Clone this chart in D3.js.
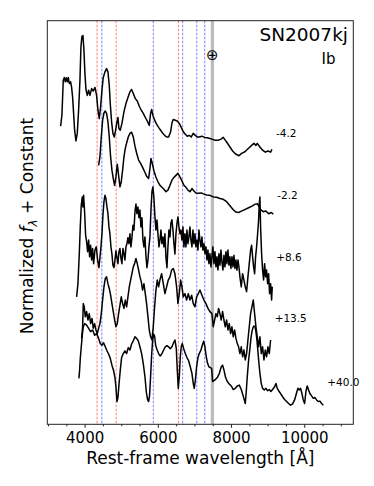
<!DOCTYPE html>
<html>
<head>
<meta charset="utf-8">
<script src="https://cdn.jsdelivr.net/npm/d3@7"></script>
<style>
  body { margin: 0; background: #fff; }
  svg { display: block; font-family: "DejaVu Sans", sans-serif; }
</style>
</head>
<body>
<div id="chart"></div>
<script>

//          Spectra  [rest wavelength (A), normalized flux + constant]
var specM42 = [
  [3344,7.46],[3380,7.74],[3416,8.61],[3444,8.68],[3471,8.57],[3498,8.67],[3526,8.57],[3553,8.68],[3580,8.53],[3617,8.57],
  [3644,8.43],[3671,8.19],[3699,7.78],[3726,7.36],[3763,7.09],[3799,7.28],[3835,7.86],[3872,8.61],[3899,9.44],[3926,9.71],
  [3954,9.73],[3981,9.36],[4008,8.78],[4036,8.38],[4072,8.23],[4109,8.36],[4145,8.23],[4190,8.40],[4236,8.34],[4282,8.43],
  [4327,8.23],[4364,7.86],[4400,7.65],[4436,7.94],[4473,8.36],[4509,8.68],[4555,8.82],[4600,8.90],[4637,8.82],[4673,8.48],
  [4700,8.03],[4737,7.57],[4773,7.28],[4810,7.19],[4846,7.36],[4883,7.57],[4910,7.68],[4937,7.40],[4974,7.36],[5019,7.53],
  [5074,7.82],[5129,8.03],[5183,8.18],[5238,8.32],[5283,8.38],[5329,8.28],[5384,8.15],[5438,8.09],[5493,7.96],[5547,7.86],
  [5602,7.78],[5657,7.68],[5711,7.59],[5766,7.48],[5802,7.78],[5830,7.88],[5866,7.73],[5912,7.61],[5966,7.51],[6021,7.43],
  [6076,7.36],[6130,7.29],[6185,7.23],[6240,7.19],[6294,7.19],[6349,7.32],[6385,7.54],[6422,7.63],[6476,7.61],[6531,7.59],
  [6586,7.53],[6640,7.43],[6695,7.32],[6750,7.26],[6804,7.21],[6859,7.23],[6913,7.19],[6968,7.28],[7023,7.23],[7077,7.19],
  [7132,7.19],[7205,7.21],[7278,7.18],[7351,7.17],[7423,7.15],[7496,7.13],[7569,7.11],[7642,7.11],[7715,7.13],[7788,7.18],
  [7842,7.11],[7897,7.04],[7970,6.94],[8043,6.84],[8116,6.77],[8216,6.72],[8288,6.78],[8379,6.82],[8471,6.90],[8562,6.98],
  [8625,7.03],[8680,6.98],[8716,7.03],[8789,6.94],[8862,6.86],[8935,6.81],[9008,6.84],[9081,6.81],[9117,6.88]
];
var specM22 = [
  [4382,6.48],[4418,6.69],[4455,7.19],[4491,7.61],[4528,7.79],[4564,7.84],[4600,7.78],[4637,7.57],[4673,7.19],[4710,6.69],
  [4746,6.36],[4782,6.15],[4819,5.98],[4855,6.19],[4892,6.51],[4928,6.23],[4965,5.94],[5001,6.07],[5037,6.36],[5074,6.69],
  [5110,6.90],[5147,7.04],[5192,7.19],[5238,7.28],[5283,7.31],[5329,7.19],[5375,6.96],[5420,6.79],[5475,6.61],[5529,6.53],
  [5584,6.43],[5639,6.32],[5693,6.21],[5748,6.15],[5784,6.40],[5812,6.65],[5848,6.53],[5894,6.34],[5948,6.19],[6003,6.07],
  [6057,5.98],[6112,5.93],[6167,5.88],[6221,5.82],[6276,5.86],[6331,5.98],[6385,6.11],[6440,6.18],[6495,6.23],[6549,6.28],
  [6604,6.19],[6659,6.09],[6713,5.98],[6768,5.93],[6822,5.86],[6877,5.82],[6932,5.90],[6986,5.84],[7041,5.79],[7114,5.78],
  [7187,5.79],[7260,5.76],[7332,5.74],[7423,5.73],[7515,5.69],[7606,5.68],[7697,5.65],[7788,5.63],[7879,5.57],[7970,5.47],
  [8061,5.37],[8134,5.31],[8206,5.30],[8297,5.34],[8389,5.38],[8480,5.42],[8571,5.46],[8662,5.51],[8716,5.52],[8753,5.47],
  [8807,5.37],[8880,5.32],[8953,5.34],[9026,5.27],[9099,5.30],[9154,5.26]
];
var specP86 = [
  [3781,3.19],[3817,3.52],[3854,4.27],[3881,4.94],[3908,5.48],[3936,5.69],[3954,5.44],[3972,5.73],[3999,5.32],[4027,4.73],
  [4054,4.57],[4081,4.32],[4109,4.61],[4136,4.19],[4163,4.48],[4191,4.11],[4218,4.40],[4245,4.02],[4282,4.36],[4318,4.44],
  [4355,4.11],[4391,3.92],[4418,4.17],[4446,4.44],[4473,4.77],[4500,5.23],[4528,5.57],[4555,5.73],[4582,5.65],[4610,5.44],
  [4637,5.27],[4664,4.94],[4691,4.77],[4719,4.44],[4746,4.26],[4773,3.98],[4801,3.92],[4828,4.11],[4855,4.34],[4883,4.17],
  [4910,4.02],[4937,4.32],[4965,4.40],[4992,4.15],[5019,4.02],[5047,4.40],[5074,4.27],[5101,4.11],[5129,4.44],[5156,4.52],
  [5183,4.67],[5211,4.52],[5238,4.77],[5265,4.44],[5292,4.67],[5320,4.98],[5347,4.86],[5375,5.32],[5402,5.51],[5429,5.27],
  [5456,5.44],[5484,5.17],[5511,5.36],[5538,4.94],[5566,5.17],[5593,4.61],[5620,4.44],[5648,4.69],[5675,4.21],[5702,3.92],
  [5730,4.11],[5757,4.44],[5784,4.69],[5812,5.36],[5839,5.82],[5866,5.94],[5894,5.65],[5921,5.19],[5948,4.86],[5976,5.11],
  [6003,4.77],[6030,4.44],[6058,4.61],[6085,4.86],[6112,4.52],[6139,4.69],[6167,4.44],[6194,4.77],[6221,4.19],[6249,3.92],
  [6276,4.44],[6303,4.86],[6331,4.69],[6358,5.04],[6385,5.12],[6413,4.86],[6440,4.52],[6467,4.26],[6495,4.77],[6522,5.02],
  [6549,5.19],[6577,4.94],[6604,4.77],[6631,4.86],[6659,4.61],[6686,4.94],[6713,4.44],[6740,4.77],[6768,4.44],[6795,4.86],
  [6822,4.52],[6850,4.69],[6877,4.94],[6904,4.61],[6932,4.44],[6959,4.86],[6986,4.52],[7014,4.77],[7041,4.44],[7068,4.61],
  [7096,4.36],[7123,4.86],[7150,4.61],[7178,4.44],[7205,4.69],[7232,4.36],[7260,4.52],[7287,4.27],[7314,4.44],[7342,4.11],
  [7369,4.36],[7396,4.02],[7424,4.27],[7451,3.94],[7478,4.19],[7505,4.44],[7533,4.02],[7560,4.32],[7588,3.94],[7615,4.19],
  [7642,3.86],[7669,4.27],[7697,3.98],[7724,4.36],[7751,4.07],[7779,3.86],[7806,4.23],[7833,3.94],[7861,4.32],[7888,4.02],
  [7915,4.36],[7943,3.98],[7970,4.19],[7997,3.90],[8025,4.19],[8052,3.94],[8079,4.23],[8107,3.90],[8134,4.11],[8161,3.86],
  [8189,4.11],[8216,3.94],[8243,3.69],[8279,3.44],[8316,3.77],[8352,3.61],[8389,3.44],[8425,3.32],[8461,3.69],[8498,4.02],
  [8534,4.36],[8562,4.48],[8589,4.19],[8616,3.94],[8644,3.77],[8671,4.19],[8698,4.44],[8726,4.77],[8753,5.11],[8771,5.52],
  [8789,5.69],[8807,4.94],[8835,4.27],[8862,3.86],[8889,3.61],[8917,4.02],[8944,3.69],[8971,3.86],[8999,3.52],[9026,3.77],
  [9053,3.27],[9081,3.52],[9108,3.11],[9126,3.44]
];
var specP135 = [
  [3917,2.15],[3945,2.44],[3963,3.02],[3990,2.94],[4018,2.69],[4054,2.82],[4090,2.61],[4127,2.77],[4163,2.52],[4200,2.65],
  [4236,2.40],[4273,2.52],[4309,2.36],[4345,2.27],[4382,2.40],[4418,2.52],[4455,2.77],[4491,3.11],[4528,3.44],[4564,3.65],
  [4600,3.69],[4637,3.52],[4673,3.40],[4710,3.23],[4746,3.02],[4782,2.82],[4819,2.61],[4855,2.44],[4892,2.52],[4928,2.77],
  [4965,2.98],[5001,3.19],[5037,3.02],[5074,2.90],[5110,3.11],[5147,2.94],[5183,3.19],[5220,3.44],[5256,3.61],[5292,3.77],
  [5329,3.94],[5365,4.02],[5402,4.15],[5438,4.02],[5475,3.86],[5511,3.69],[5547,3.57],[5584,3.36],[5620,3.52],[5657,3.27],
  [5693,3.02],[5730,2.69],[5766,2.36],[5802,2.19],[5839,2.11],[5875,2.44],[5912,2.94],[5948,3.36],[5985,3.61],[6021,3.44],
  [6057,3.61],[6103,3.77],[6149,3.52],[6194,3.27],[6240,3.44],[6285,3.61],[6331,3.69],[6376,3.86],[6422,3.90],[6467,3.77],
  [6513,3.44],[6549,3.02],[6586,3.27],[6622,3.61],[6659,3.44],[6695,3.19],[6741,3.27],[6786,3.11],[6832,3.27],[6877,3.11],
  [6923,3.23],[6968,3.02],[7014,2.94],[7059,3.19],[7105,3.27],[7150,3.36],[7205,3.23],[7259,3.11],[7314,3.02],[7369,2.90],
  [7423,2.82],[7478,2.77],[7514,2.44],[7551,2.61],[7587,2.77],[7624,2.69],[7660,2.90],[7696,2.77],[7733,2.61],[7769,2.82],
  [7806,2.61],[7842,2.44],[7879,2.61],[7915,2.36],[7951,2.52],[7988,2.27],[8024,2.44],[8061,2.19],[8097,2.36],[8134,2.15],
  [8170,2.02],[8206,1.94],[8243,1.77],[8279,1.94],[8316,1.69],[8352,1.86],[8389,1.61],[8425,1.77],[8461,2.11],[8498,2.44],
  [8534,2.77],[8571,2.94],[8607,3.11],[8644,2.77],[8680,2.44],[8716,2.19],[8753,1.94],[8789,2.19],[8826,1.77],[8862,1.94],
  [8899,1.61],[8935,1.86],[8971,1.69],[9008,1.94],[9044,1.77],[9081,2.11]
];
var specP400 = [
  [3844,1.15],[3863,1.36],[3881,1.65],[3908,1.94],[3936,2.23],[3963,2.44],[4000,2.52],[4054,2.48],[4109,2.40],[4163,2.32],
  [4218,2.36],[4273,2.23],[4327,2.27],[4382,2.15],[4427,2.02],[4473,1.98],[4518,2.04],[4564,1.94],[4610,1.84],[4655,1.76],
  [4701,1.65],[4746,1.48],[4792,1.34],[4828,1.17],[4855,0.94],[4883,0.57],[4910,0.67],[4937,0.98],[4974,1.36],[5010,1.67],
  [5056,1.77],[5101,1.84],[5147,1.77],[5192,1.92],[5238,1.86],[5283,2.01],[5329,2.09],[5375,2.19],[5420,2.15],[5465,2.09],
  [5511,1.94],[5557,1.77],[5602,1.52],[5648,1.19],[5684,0.82],[5721,0.61],[5748,0.57],[5775,0.73],[5802,1.19],[5830,1.73],
  [5857,2.09],[5884,2.26],[5912,2.21],[5939,1.98],[5976,1.87],[6021,1.77],[6067,1.71],[6112,1.77],[6158,1.86],[6203,1.94],
  [6249,1.97],[6294,1.94],[6340,1.89],[6385,1.94],[6431,2.04],[6467,2.11],[6504,1.90],[6531,1.36],[6558,0.90],[6586,1.19],
  [6613,1.69],[6640,1.94],[6668,2.02],[6704,1.90],[6750,1.77],[6795,1.67],[6841,1.59],[6886,1.44],[6932,1.27],[6968,1.02],
  [6995,0.90],[7023,1.09],[7059,1.44],[7096,1.67],[7132,1.77],[7178,1.86],[7214,1.98],[7251,2.08],[7287,1.94],[7323,1.69],
  [7360,1.52],[7396,1.44],[7433,1.42],[7469,1.40],[7496,1.07],[7560,1.11],[7624,1.17],[7678,1.27],[7733,1.44],[7769,1.48],
  [7806,1.36],[7851,1.17],[7897,1.07],[7951,1.01],[8006,0.96],[8061,0.87],[8115,0.90],[8170,0.96],[8225,0.98],[8279,0.87],
  [8325,0.73],[8361,0.61],[8389,0.52],[8416,0.82],[8443,1.19],[8480,1.61],[8516,1.90],[8543,2.15],[8571,2.32],[8598,2.42],
  [8625,2.46],[8653,2.44],[8680,2.32],[8707,2.11],[8735,1.82],[8762,1.52],[8789,1.27],[8826,1.02],[8862,0.90],[8908,0.86],
  [8953,0.90],[8999,0.84],[9044,0.87],[9090,0.82],[9135,0.87],[9190,0.94],[9226,1.02],[9263,0.90],[9299,0.84],[9354,0.77],
  [9409,0.69],[9463,0.62],[9518,0.57],[9572,0.52],[9627,0.48],[9682,0.51],[9736,0.61],[9791,0.79],[9827,0.90],[9864,0.86],
  [9900,0.90],[9937,0.77],[9973,0.61],[10010,0.52],[10046,0.82],[10082,0.96],[10119,0.86],[10155,0.77],[10201,0.71],[10246,0.65],
  [10292,0.67],[10337,0.61],[10383,0.57],[10428,0.58],[10474,0.52],[10520,0.48]
];

var spectra = [specM42, specM22, specP86, specP135, specP400];
var epochLabels = ["-4.2", "-2.2", "+8.6", "+13.5", "+40.0"];
var labelLevels = [7.30, 5.73, 4.19, 2.66, 1.07];

//          Line identifications (A)
var hydrogenLines = [4340, 4861, 6563];
var heliumLines = [4471, 5876, 6678, 7065, 7281];
var telluricBand = [7445, 7535];

var xTicksMajor = [4000, 6000, 8000, 10000];
var xTicksMinor = [3000, 3500, 4500, 5000, 5500, 6500, 7000, 7500, 8500, 9000, 9500, 10500, 11000];

var snName = "SN2007kj";
var snType = "Ib";

//          Chart settings
var W = 374, H = 486;
var plotL = 47.3, plotR = 353.3, plotT = 20.7, plotB = 424.3;
var labelShift = 110;

var svg = d3.select("#chart").append("svg")
    .attr("width", W)
    .attr("height", H);

var x = d3.scaleLinear().domain([2980, 11340]).range([plotL, plotR]);
var y = d3.scaleLinear().domain([0, 10.1]).range([plotB, plotT]);

//          Line markers
svg.selectAll("line.hline").data(hydrogenLines).enter().append("line")
    .attr("class", "hline")
    .attr("x1", function(d) { return x(d); })
    .attr("x2", function(d) { return x(d); })
    .attr("y1", plotT).attr("y2", plotB)
    .style("stroke", "#ff8080")
    .style("stroke-width", 1)
    .style("stroke-dasharray", "2.6,1.4");

svg.selectAll("line.heline").data(heliumLines).enter().append("line")
    .attr("class", "heline")
    .attr("x1", function(d) { return x(d); })
    .attr("x2", function(d) { return x(d); })
    .attr("y1", plotT).attr("y2", plotB)
    .style("stroke", "#8080ff")
    .style("stroke-width", 1)
    .style("stroke-dasharray", "2.6,1.4");

svg.append("rect")
    .attr("x", x(telluricBand[0]))
    .attr("width", x(telluricBand[1]) - x(telluricBand[0]))
    .attr("y", plotT)
    .attr("height", plotB - plotT)
    .style("fill", "#bdbdbd");

svg.append("text")
    .attr("x", x((telluricBand[0] + telluricBand[1]) / 2))
    .attr("y", y(9.23))
    .attr("text-anchor", "middle")
    .attr("dominant-baseline", "central")
    .style("font-size", "15px")
    .text("\u2295");

//          Spectra
var line = d3.line()
    .x(function(d) { return x(d[0]); })
    .y(function(d) { return y(d[1]); });

svg.selectAll("path.spec").data(spectra).enter().append("path")
    .attr("class", "spec")
    .attr("d", line)
    .style("fill", "none")
    .style("stroke", "#000")
    .style("stroke-width", 1.5)
    .style("stroke-linejoin", "round");

svg.selectAll("text.epoch").data(spectra).enter().append("text")
    .attr("class", "epoch")
    .attr("x", function(d) { return x(d[d.length - 1][0] + labelShift); })
    .attr("y", function(d, i) { return y(labelLevels[i]); })
    .attr("dominant-baseline", "central")
    .style("font-size", "10.5px")
    .text(function(d, i) { return epochLabels[i]; });

//          Frame + axis
svg.append("rect")
    .attr("x", plotL).attr("y", plotT)
    .attr("width", plotR - plotL).attr("height", plotB - plotT)
    .style("fill", "none")
    .style("stroke", "#222")
    .style("stroke-width", 1);

var axisMajor = d3.axisBottom(x).tickValues(xTicksMajor).tickSize(3.5).tickPadding(5)
    .tickFormat(d3.format("d"));
var axisMinor = d3.axisBottom(x).tickValues(xTicksMinor).tickSize(2).tickFormat("");

var gMinor = svg.append("g").attr("transform", "translate(0," + plotB + ")").call(axisMinor);
var gMajor = svg.append("g").attr("transform", "translate(0," + plotB + ")").call(axisMajor);
[gMinor, gMajor].forEach(function(g) {
    g.select(".domain").remove();
    g.selectAll("line").style("stroke", "#222");
});
gMajor.selectAll("text")
    .style("font-size", "15px")
    .style("font-family", "DejaVu Sans, sans-serif")
    .style("fill", "#000");

svg.append("text")
    .attr("x", (plotL + plotR) / 2)
    .attr("y", 464)
    .attr("text-anchor", "middle")
    .style("font-size", "17px")
    .text("Rest-frame wavelength [\u00c5]");

var yLab = svg.append("text")
    .attr("transform", "translate(33," + 226 + ") rotate(-90)")
    .attr("text-anchor", "middle")
    .style("font-size", "17px");
yLab.append("tspan").text("Normalized ");
yLab.append("tspan").style("font-style", "italic").text("f");
yLab.append("tspan").attr("dy", 4).style("font-size", "12px").style("font-style", "italic").text("\u03bb");
yLab.append("tspan").attr("dy", -4).text(" + Constant");

//          Name + type
svg.append("text")
    .attr("x", 348).attr("y", 41)
    .attr("text-anchor", "end")
    .style("font-size", "18.5px")
    .text(snName);

svg.append("text")
    .attr("x", 328.5).attr("y", 64)
    .attr("text-anchor", "middle")
    .style("font-size", "15px")
    .text(snType);

</script>
</body>
</html>
